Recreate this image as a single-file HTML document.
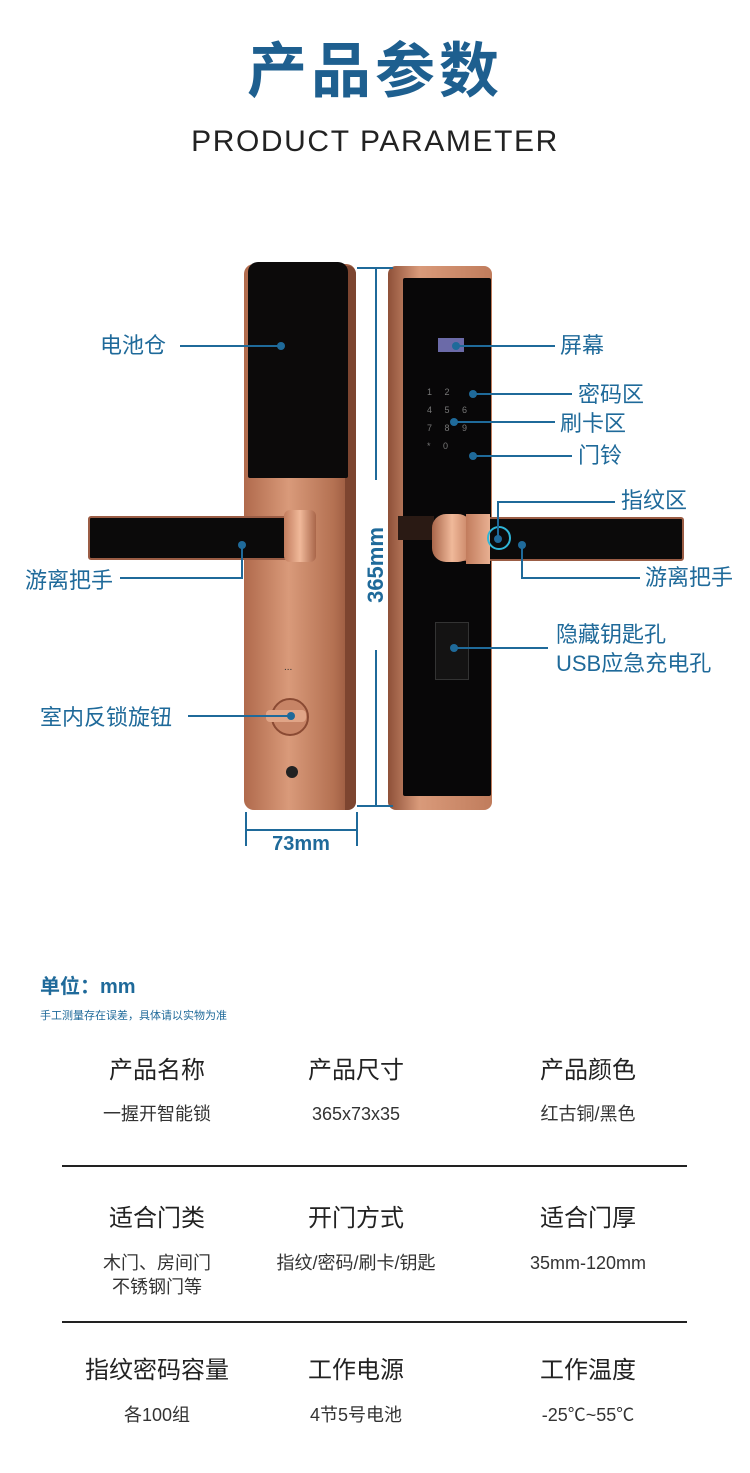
<!DOCTYPE html>
<html><head><meta charset="utf-8"><style>
*{margin:0;padding:0;box-sizing:border-box}
body{width:750px;height:1473px;background:#fff;position:relative;overflow:hidden;font-family:"Liberation Sans","Noto Sans CJK SC",sans-serif}
.a{position:absolute;white-space:nowrap}
.lb{color:#1f6a9a;font-size:22px;line-height:24px}
.ln{position:absolute;background:#1f6a9a}
.dot{position:absolute;width:8px;height:8px;border-radius:50%;background:#1f6a9a}
.h{font-size:24px;color:#222;line-height:26px;text-align:center;width:200px}
.v{font-size:18px;color:#333;line-height:24px;text-align:center;width:200px}
</style></head><body>
<div class="a" style="left:0;width:750px;top:36px;text-align:center;font-size:60px;font-weight:bold;color:#1e5f8f;line-height:72px;letter-spacing:4px">产品参数</div>
<div class="a" style="left:0;width:750px;top:124px;text-align:center;font-size:30px;color:#222;line-height:36px;letter-spacing:1.6px">PRODUCT PARAMETER</div>

<!-- left lock -->
<div class="a" style="left:244px;top:264px;width:112px;height:546px;border-radius:10px;background:linear-gradient(90deg,#b06a4c,#d99a7a 40%,#b47152 80%,#8e5038)"></div>
<div class="a" style="left:345px;top:266px;width:11px;height:544px;background:#7d4530;border-radius:0 8px 8px 0"></div>
<div class="a" style="left:248px;top:262px;width:100px;height:216px;background:#0c0a0a;border-radius:10px 10px 2px 2px"></div>
<div class="a" style="left:88px;top:516px;width:204px;height:44px;background:#0b0a0a;border:2px solid #9b5d45;border-radius:3px"></div>
<div class="a" style="left:284px;top:510px;width:32px;height:52px;background:linear-gradient(90deg,#c27c5d,#f0b99a,#a9664a);border-radius:6px"></div>
<div class="a" style="left:271px;top:698px;width:38px;height:38px;border-radius:50%;background:#c78466;border:2px solid #8a4a33"></div>
<div class="a" style="left:266px;top:710px;width:40px;height:12px;background:#e0a587;border-radius:4px"></div>
<div class="a" style="left:286px;top:766px;width:12px;height:12px;border-radius:50%;background:#222"></div>
<div class="a" style="left:284px;top:662px;font-size:10px;color:#333">...</div>

<!-- right lock -->
<div class="a" style="left:388px;top:266px;width:104px;height:544px;border-radius:8px;background:linear-gradient(90deg,#8e5038,#d99a7a 30%,#c07c5c)"></div>
<div class="a" style="left:403px;top:278px;width:88px;height:518px;background:#080708;border-radius:2px"></div>
<div class="a" style="left:438px;top:338px;width:26px;height:14px;background:#6b6aa8"></div>
<div class="a" style="left:427px;top:383px;width:56px;font-size:9px;color:#777;line-height:18px;word-spacing:10px">1 2<br>4 5 6<br>7 8 9<br>* 0 </div>
<div class="a" style="left:398px;top:516px;width:36px;height:24px;background:#2a1a14"></div>
<div class="a" style="left:460px;top:517px;width:224px;height:44px;background:#0b0a0a;border:2px solid #9b5d45;border-radius:3px"></div>
<div class="a" style="left:432px;top:514px;width:40px;height:48px;background:linear-gradient(90deg,#a9664a,#f0b99a,#c27c5d);border-radius:14px"></div>
<div class="a" style="left:466px;top:514px;width:24px;height:50px;background:linear-gradient(90deg,#c27c5d,#e8b092);"></div>
<div class="a" style="left:487px;top:526px;width:24px;height:24px;border-radius:50%;border:2px solid #2fb6d8"></div>
<div class="a" style="left:435px;top:622px;width:34px;height:58px;background:#141313;border:1px solid #333"></div>

<!-- dimension lines -->
<div class="ln" style="left:375px;top:268px;width:2px;height:212px"></div>
<div class="ln" style="left:375px;top:650px;width:2px;height:156px"></div>
<div class="ln" style="left:357px;top:267px;width:36px;height:2px"></div>
<div class="ln" style="left:357px;top:805px;width:36px;height:2px"></div>
<div class="a" style="left:316px;top:552px;width:120px;text-align:center;transform:rotate(-90deg);font-size:22px;font-weight:bold;color:#1f6a9a;line-height:26px">365mm</div>
<div class="ln" style="left:245px;top:829px;width:112px;height:2px"></div>
<div class="ln" style="left:245px;top:812px;width:2px;height:34px"></div>
<div class="ln" style="left:356px;top:812px;width:2px;height:34px"></div>
<div class="a" style="left:251px;top:833px;width:100px;text-align:center;font-size:20px;font-weight:bold;color:#1f6a9a">73mm</div>

<!-- labels -->
<div class="a lb" style="left:100px;top:334px">电池仓</div>
<div class="ln" style="left:180px;top:345px;width:100px;height:2px"></div><div class="dot" style="left:277px;top:342px"></div>
<div class="a lb" style="left:25px;top:569px">游离把手</div>
<div class="ln" style="left:120px;top:577px;width:123px;height:2px"></div><div class="ln" style="left:241px;top:545px;width:2px;height:34px"></div><div class="dot" style="left:238px;top:541px"></div>
<div class="a lb" style="left:40px;top:706px">室内反锁旋钮</div>
<div class="ln" style="left:188px;top:715px;width:102px;height:2px"></div><div class="dot" style="left:287px;top:712px"></div>

<div class="a lb" style="left:560px;top:334px">屏幕</div>
<div class="ln" style="left:455px;top:345px;width:100px;height:2px"></div><div class="dot" style="left:452px;top:342px"></div>
<div class="a lb" style="left:578px;top:383px">密码区</div>
<div class="ln" style="left:472px;top:393px;width:100px;height:2px"></div><div class="dot" style="left:469px;top:390px"></div>
<div class="a lb" style="left:560px;top:412px">刷卡区</div>
<div class="ln" style="left:453px;top:421px;width:102px;height:2px"></div><div class="dot" style="left:450px;top:418px"></div>
<div class="a lb" style="left:578px;top:444px">门铃</div>
<div class="ln" style="left:472px;top:455px;width:100px;height:2px"></div><div class="dot" style="left:469px;top:452px"></div>
<div class="a lb" style="left:621px;top:489px">指纹区</div>
<div class="ln" style="left:497px;top:501px;width:118px;height:2px"></div><div class="ln" style="left:497px;top:501px;width:2px;height:38px"></div><div class="dot" style="left:494px;top:535px"></div>
<div class="a lb" style="left:645px;top:566px">游离把手</div>
<div class="ln" style="left:521px;top:577px;width:119px;height:2px"></div><div class="ln" style="left:521px;top:545px;width:2px;height:34px"></div><div class="dot" style="left:518px;top:541px"></div>
<div class="a lb" style="left:556px;top:623px">隐藏钥匙孔</div>
<div class="a lb" style="left:556px;top:652px">USB应急充电孔</div>
<div class="ln" style="left:453px;top:647px;width:95px;height:2px"></div><div class="dot" style="left:450px;top:644px"></div>

<!-- bottom -->
<div class="a" style="left:40px;top:970px;font-size:20px;font-weight:bold;color:#1f6a9a">单位：mm</div>
<div class="a" style="left:40px;top:1007px;font-size:11px;color:#1f6a9a">手工测量存在误差，具体请以实物为准</div>

<div class="a h" style="left:57px;top:1058px">产品名称</div>
<div class="a h" style="left:256px;top:1058px">产品尺寸</div>
<div class="a h" style="left:488px;top:1058px">产品颜色</div>
<div class="a v" style="left:57px;top:1102px">一握开智能锁</div>
<div class="a v" style="left:256px;top:1102px">365x73x35</div>
<div class="a v" style="left:488px;top:1102px">红古铜/黑色</div>
<div class="a" style="left:62px;top:1165px;width:625px;height:2px;background:#222"></div>

<div class="a h" style="left:57px;top:1206px">适合门类</div>
<div class="a h" style="left:256px;top:1206px">开门方式</div>
<div class="a h" style="left:488px;top:1206px">适合门厚</div>
<div class="a v" style="left:57px;top:1251px">木门、房间门<br>不锈钢门等</div>
<div class="a v" style="left:256px;top:1251px">指纹/密码/刷卡/钥匙</div>
<div class="a v" style="left:488px;top:1251px">35mm-120mm</div>
<div class="a" style="left:62px;top:1321px;width:625px;height:2px;background:#222"></div>

<div class="a h" style="left:57px;top:1358px">指纹密码容量</div>
<div class="a h" style="left:256px;top:1358px">工作电源</div>
<div class="a h" style="left:488px;top:1358px">工作温度</div>
<div class="a v" style="left:57px;top:1403px">各100组</div>
<div class="a v" style="left:256px;top:1403px">4节5号电池</div>
<div class="a v" style="left:488px;top:1403px">-25℃~55℃</div>
</body></html>
